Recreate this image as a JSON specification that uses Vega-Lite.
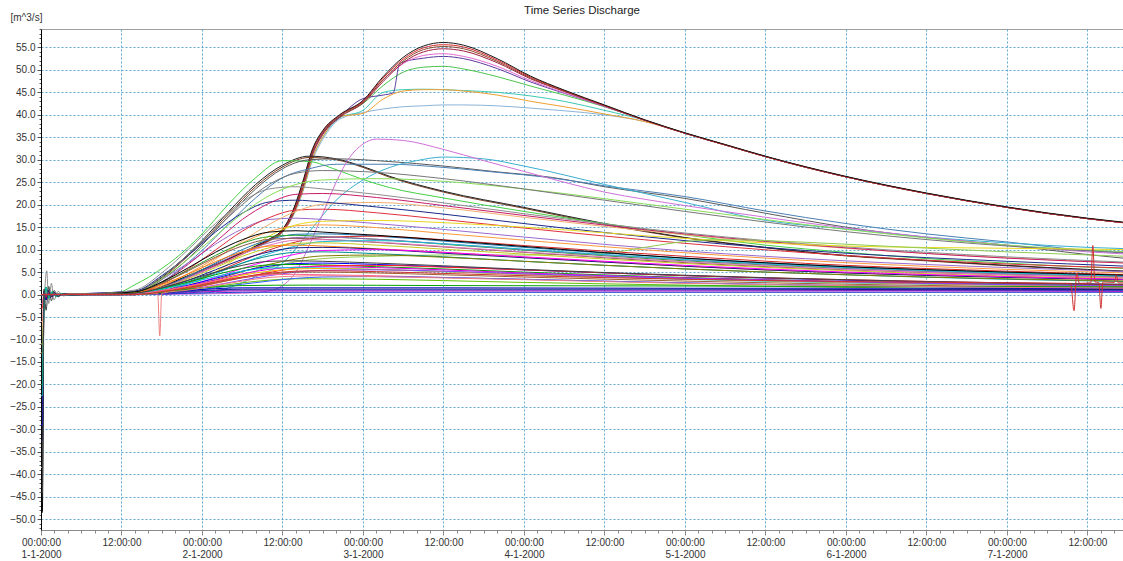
{
"$schema": "https://vega.github.io/schema/vega-lite/v6.json",
"width": 1082,
"height": 501,
"autosize": {"type": "none"},
"padding": {"left": 41, "top": 29, "right": 0, "bottom": 31},
"background": "white",
"title": {"text": "Time Series Discharge", "anchor": "middle", "frame": "group", "offset": 8, "dy": 12, "font": "Liberation Sans", "fontSize": 11.5, "fontWeight": "normal", "color": "#222222"},
"config": {"view": {"stroke": "#a0a0a0", "strokeWidth": 1}},
"data": {"values": [
{"s":"s01","h":0,"q":0},{"s":"s01","h":12,"q":0},{"s":"s01","h":14,"q":0.2},{"s":"s01","h":16,"q":0.7},{"s":"s01","h":18,"q":1.6},{"s":"s01","h":20,"q":2.8},{"s":"s01","h":24,"q":5.2},{"s":"s01","h":28,"q":7.6},{"s":"s01","h":32,"q":10.4},{"s":"s01","h":34,"q":11.9},{"s":"s01","h":36,"q":13.8},{"s":"s01","h":37.5,"q":17.2},{"s":"s01","h":39,"q":22.7},{"s":"s01","h":40.5,"q":30.0},{"s":"s01","h":42,"q":34.5},{"s":"s01","h":44.5,"q":39.0},{"s":"s01","h":48,"q":40.5},{"s":"s01","h":51,"q":41.3},{"s":"s01","h":54,"q":41.8},{"s":"s01","h":57,"q":42.0},{"s":"s01","h":60,"q":42.2},{"s":"s01","h":63,"q":42.2},{"s":"s01","h":68,"q":42.0},{"s":"s01","h":73,"q":41.5},{"s":"s01","h":78,"q":40.9},{"s":"s01","h":84,"q":40.0},{"s":"s01","h":90,"q":38.5},{"s":"s01","h":96,"q":35.9},{"s":"s01","h":102,"q":33.3},{"s":"s01","h":108,"q":30.7},{"s":"s01","h":120,"q":26.2},{"s":"s01","h":132,"q":22.5},{"s":"s01","h":144,"q":19.4},{"s":"s01","h":156,"q":16.9},{"s":"s01","h":162,"q":15.9},
{"s":"s02","h":0,"q":0},{"s":"s02","h":12,"q":0},{"s":"s02","h":14,"q":0.2},{"s":"s02","h":16,"q":0.7},{"s":"s02","h":18,"q":1.6},{"s":"s02","h":20,"q":2.8},{"s":"s02","h":24,"q":5.2},{"s":"s02","h":28,"q":7.6},{"s":"s02","h":32,"q":10.4},{"s":"s02","h":34,"q":11.9},{"s":"s02","h":36,"q":13.9},{"s":"s02","h":37.5,"q":17.4},{"s":"s02","h":39,"q":23.0},{"s":"s02","h":40.5,"q":30.5},{"s":"s02","h":42,"q":35.0},{"s":"s02","h":44.5,"q":39.3},{"s":"s02","h":48,"q":41.0},{"s":"s02","h":51,"q":45.0},{"s":"s02","h":54,"q":45.6},{"s":"s02","h":57,"q":45.7},{"s":"s02","h":60,"q":45.6},{"s":"s02","h":63,"q":45.4},{"s":"s02","h":68,"q":45.0},{"s":"s02","h":73,"q":44.2},{"s":"s02","h":78,"q":43.0},{"s":"s02","h":84,"q":41.0},{"s":"s02","h":90,"q":38.8},{"s":"s02","h":96,"q":35.9},{"s":"s02","h":102,"q":33.3},{"s":"s02","h":108,"q":30.7},{"s":"s02","h":120,"q":26.2},{"s":"s02","h":132,"q":22.5},{"s":"s02","h":144,"q":19.4},{"s":"s02","h":156,"q":16.9},{"s":"s02","h":162,"q":15.9},
{"s":"s03","h":0,"q":0},{"s":"s03","h":12,"q":0},{"s":"s03","h":14,"q":0.2},{"s":"s03","h":16,"q":0.7},{"s":"s03","h":18,"q":1.6},{"s":"s03","h":20,"q":2.8},{"s":"s03","h":24,"q":5.2},{"s":"s03","h":28,"q":7.6},{"s":"s03","h":32,"q":10.4},{"s":"s03","h":34,"q":11.9},{"s":"s03","h":36,"q":13.9},{"s":"s03","h":37.5,"q":17.4},{"s":"s03","h":39,"q":23.0},{"s":"s03","h":40.5,"q":30.5},{"s":"s03","h":42,"q":35.0},{"s":"s03","h":44.5,"q":39.6},{"s":"s03","h":48,"q":40.3},{"s":"s03","h":51,"q":43.5},{"s":"s03","h":54,"q":45.3},{"s":"s03","h":57,"q":45.6},{"s":"s03","h":60,"q":45.6},{"s":"s03","h":63,"q":45.3},{"s":"s03","h":68,"q":44.4},{"s":"s03","h":73,"q":43.0},{"s":"s03","h":78,"q":41.8},{"s":"s03","h":84,"q":40.2},{"s":"s03","h":90,"q":38.5},{"s":"s03","h":96,"q":35.9},{"s":"s03","h":102,"q":33.3},{"s":"s03","h":108,"q":30.7},{"s":"s03","h":120,"q":26.2},{"s":"s03","h":132,"q":22.5},{"s":"s03","h":144,"q":19.4},{"s":"s03","h":156,"q":16.9},{"s":"s03","h":162,"q":15.9},
{"s":"s04","h":0,"q":0},{"s":"s04","h":12,"q":0},{"s":"s04","h":14,"q":0.2},{"s":"s04","h":16,"q":0.8},{"s":"s04","h":18,"q":1.8},{"s":"s04","h":20,"q":3.0},{"s":"s04","h":24,"q":5.5},{"s":"s04","h":28,"q":8.0},{"s":"s04","h":32,"q":10.8},{"s":"s04","h":34,"q":12.3},{"s":"s04","h":36,"q":14.4},{"s":"s04","h":37.5,"q":18.3},{"s":"s04","h":39,"q":24.8},{"s":"s04","h":40.5,"q":32.2},{"s":"s04","h":42,"q":36.2},{"s":"s04","h":44.5,"q":39.6},{"s":"s04","h":48,"q":42.5},{"s":"s04","h":51,"q":46.5},{"s":"s04","h":54,"q":49.5},{"s":"s04","h":57,"q":50.6},{"s":"s04","h":60,"q":50.8},{"s":"s04","h":63,"q":50.2},{"s":"s04","h":68,"q":48.5},{"s":"s04","h":73,"q":46.4},{"s":"s04","h":78,"q":44.4},{"s":"s04","h":84,"q":41.8},{"s":"s04","h":90,"q":38.8},{"s":"s04","h":96,"q":35.9},{"s":"s04","h":102,"q":33.3},{"s":"s04","h":108,"q":30.7},{"s":"s04","h":120,"q":26.2},{"s":"s04","h":132,"q":22.5},{"s":"s04","h":144,"q":19.4},{"s":"s04","h":156,"q":16.9},{"s":"s04","h":162,"q":15.9},
{"s":"s05","h":0,"q":0},{"s":"s05","h":12,"q":0},{"s":"s05","h":14,"q":0.2},{"s":"s05","h":16,"q":0.7},{"s":"s05","h":18,"q":1.7},{"s":"s05","h":20,"q":2.9},{"s":"s05","h":24,"q":5.3},{"s":"s05","h":28,"q":7.8},{"s":"s05","h":32,"q":10.6},{"s":"s05","h":34,"q":12.1},{"s":"s05","h":36,"q":14.1},{"s":"s05","h":37.5,"q":17.8},{"s":"s05","h":39,"q":23.8},{"s":"s05","h":40.5,"q":31.5},{"s":"s05","h":42,"q":35.8},{"s":"s05","h":44.5,"q":39.5},{"s":"s05","h":48,"q":43.6},{"s":"s05","h":51,"q":44.4},{"s":"s05","h":52.5,"q":44.9},{"s":"s05","h":53.5,"q":51.5},{"s":"s05","h":57,"q":52.6},{"s":"s05","h":60,"q":53.0},{"s":"s05","h":63,"q":52.5},{"s":"s05","h":68,"q":50.3},{"s":"s05","h":73,"q":47.3},{"s":"s05","h":78,"q":44.8},{"s":"s05","h":84,"q":41.9},{"s":"s05","h":90,"q":38.8},{"s":"s05","h":96,"q":35.9},{"s":"s05","h":102,"q":33.3},{"s":"s05","h":108,"q":30.7},{"s":"s05","h":120,"q":26.2},{"s":"s05","h":132,"q":22.5},{"s":"s05","h":144,"q":19.4},{"s":"s05","h":156,"q":16.9},{"s":"s05","h":162,"q":15.9},
{"s":"s06","h":0,"q":0},{"s":"s06","h":12,"q":0},{"s":"s06","h":14,"q":0.2},{"s":"s06","h":16,"q":0.8},{"s":"s06","h":18,"q":1.7},{"s":"s06","h":20,"q":2.9},{"s":"s06","h":24,"q":5.4},{"s":"s06","h":28,"q":7.9},{"s":"s06","h":32,"q":10.7},{"s":"s06","h":34,"q":12.2},{"s":"s06","h":36,"q":14.3},{"s":"s06","h":37.5,"q":18.2},{"s":"s06","h":39,"q":24.6},{"s":"s06","h":40.5,"q":32.0},{"s":"s06","h":42,"q":36.2},{"s":"s06","h":44.5,"q":39.8},{"s":"s06","h":48,"q":43.0},{"s":"s06","h":51,"q":47.8},{"s":"s06","h":54,"q":51.4},{"s":"s06","h":57,"q":53.2},{"s":"s06","h":60,"q":53.6},{"s":"s06","h":63,"q":53.0},{"s":"s06","h":68,"q":50.8},{"s":"s06","h":73,"q":47.6},{"s":"s06","h":78,"q":44.9},{"s":"s06","h":84,"q":41.9},{"s":"s06","h":90,"q":38.8},{"s":"s06","h":96,"q":35.9},{"s":"s06","h":102,"q":33.3},{"s":"s06","h":108,"q":30.7},{"s":"s06","h":120,"q":26.2},{"s":"s06","h":132,"q":22.5},{"s":"s06","h":144,"q":19.4},{"s":"s06","h":156,"q":16.9},{"s":"s06","h":162,"q":15.9},
{"s":"s07","h":0,"q":0},{"s":"s07","h":12,"q":0},{"s":"s07","h":14,"q":0.2},{"s":"s07","h":16,"q":0.7},{"s":"s07","h":18,"q":1.6},{"s":"s07","h":20,"q":2.8},{"s":"s07","h":24,"q":5.2},{"s":"s07","h":28,"q":7.7},{"s":"s07","h":32,"q":10.5},{"s":"s07","h":34,"q":12.0},{"s":"s07","h":36,"q":14.0},{"s":"s07","h":37.5,"q":17.6},{"s":"s07","h":39,"q":23.6},{"s":"s07","h":40.5,"q":31.2},{"s":"s07","h":42,"q":35.6},{"s":"s07","h":44.5,"q":39.4},{"s":"s07","h":48,"q":42.6},{"s":"s07","h":51,"q":47.4},{"s":"s07","h":54,"q":51.6},{"s":"s07","h":57,"q":54.0},{"s":"s07","h":60,"q":54.7},{"s":"s07","h":63,"q":54.2},{"s":"s07","h":68,"q":51.6},{"s":"s07","h":73,"q":48.0},{"s":"s07","h":78,"q":45.2},{"s":"s07","h":84,"q":42.0},{"s":"s07","h":90,"q":38.8},{"s":"s07","h":96,"q":35.9},{"s":"s07","h":102,"q":33.3},{"s":"s07","h":108,"q":30.7},{"s":"s07","h":120,"q":26.2},{"s":"s07","h":132,"q":22.5},{"s":"s07","h":144,"q":19.4},{"s":"s07","h":156,"q":16.9},{"s":"s07","h":162,"q":15.9},
{"s":"s08","h":0,"q":0},{"s":"s08","h":12,"q":0},{"s":"s08","h":14,"q":0.2},{"s":"s08","h":16,"q":0.7},{"s":"s08","h":18,"q":1.7},{"s":"s08","h":20,"q":2.9},{"s":"s08","h":24,"q":5.3},{"s":"s08","h":28,"q":7.8},{"s":"s08","h":32,"q":10.6},{"s":"s08","h":34,"q":12.1},{"s":"s08","h":36,"q":14.2},{"s":"s08","h":37.5,"q":18.0},{"s":"s08","h":39,"q":24.2},{"s":"s08","h":40.5,"q":31.8},{"s":"s08","h":42,"q":36.0},{"s":"s08","h":44.5,"q":39.7},{"s":"s08","h":48,"q":42.8},{"s":"s08","h":51,"q":47.8},{"s":"s08","h":54,"q":52.0},{"s":"s08","h":57,"q":54.5},{"s":"s08","h":60,"q":55.2},{"s":"s08","h":63,"q":54.7},{"s":"s08","h":68,"q":51.9},{"s":"s08","h":73,"q":48.2},{"s":"s08","h":78,"q":45.3},{"s":"s08","h":84,"q":42.1},{"s":"s08","h":90,"q":38.8},{"s":"s08","h":96,"q":35.9},{"s":"s08","h":102,"q":33.3},{"s":"s08","h":108,"q":30.7},{"s":"s08","h":120,"q":26.2},{"s":"s08","h":132,"q":22.5},{"s":"s08","h":144,"q":19.4},{"s":"s08","h":156,"q":16.9},{"s":"s08","h":162,"q":15.9},
{"s":"s09","h":0,"q":0},{"s":"s09","h":12,"q":0},{"s":"s09","h":14,"q":0.2},{"s":"s09","h":16,"q":0.8},{"s":"s09","h":18,"q":1.7},{"s":"s09","h":20,"q":2.9},{"s":"s09","h":24,"q":5.4},{"s":"s09","h":28,"q":7.9},{"s":"s09","h":32,"q":10.7},{"s":"s09","h":34,"q":12.2},{"s":"s09","h":36,"q":14.3},{"s":"s09","h":37.5,"q":18.2},{"s":"s09","h":39,"q":24.6},{"s":"s09","h":40.5,"q":32.2},{"s":"s09","h":42,"q":36.3},{"s":"s09","h":44.5,"q":39.9},{"s":"s09","h":48,"q":43.0},{"s":"s09","h":51,"q":48.2},{"s":"s09","h":54,"q":52.4},{"s":"s09","h":57,"q":54.9},{"s":"s09","h":60,"q":55.6},{"s":"s09","h":63,"q":55.1},{"s":"s09","h":68,"q":52.2},{"s":"s09","h":73,"q":48.4},{"s":"s09","h":78,"q":45.4},{"s":"s09","h":84,"q":42.1},{"s":"s09","h":90,"q":38.8},{"s":"s09","h":96,"q":35.9},{"s":"s09","h":102,"q":33.3},{"s":"s09","h":108,"q":30.7},{"s":"s09","h":120,"q":26.2},{"s":"s09","h":132,"q":22.5},{"s":"s09","h":144,"q":19.4},{"s":"s09","h":156,"q":16.9},{"s":"s09","h":162,"q":15.9},
{"s":"s10","h":0,"q":0},{"s":"s10","h":12,"q":0},{"s":"s10","h":14,"q":0.2},{"s":"s10","h":16,"q":0.8},{"s":"s10","h":18,"q":1.8},{"s":"s10","h":20,"q":3.0},{"s":"s10","h":24,"q":5.5},{"s":"s10","h":28,"q":8.0},{"s":"s10","h":32,"q":10.8},{"s":"s10","h":34,"q":12.3},{"s":"s10","h":36,"q":14.5},{"s":"s10","h":37.5,"q":18.5},{"s":"s10","h":39,"q":25},{"s":"s10","h":40.5,"q":32.5},{"s":"s10","h":42,"q":36.5},{"s":"s10","h":44.5,"q":40},{"s":"s10","h":48,"q":43.2},{"s":"s10","h":51,"q":48.5},{"s":"s10","h":54,"q":52.8},{"s":"s10","h":57,"q":55.3},{"s":"s10","h":60,"q":56.1},{"s":"s10","h":63,"q":55.5},{"s":"s10","h":68,"q":52.5},{"s":"s10","h":73,"q":48.6},{"s":"s10","h":78,"q":45.5},{"s":"s10","h":84,"q":42.2},{"s":"s10","h":90,"q":38.9},{"s":"s10","h":96,"q":36.0},{"s":"s10","h":102,"q":33.4},{"s":"s10","h":108,"q":30.8},{"s":"s10","h":120,"q":26.3},{"s":"s10","h":132,"q":22.6},{"s":"s10","h":144,"q":19.5},{"s":"s10","h":156,"q":17.0},{"s":"s10","h":162,"q":16.0},
{"s":"s12","h":0,"q":0},{"s":"s12","h":12,"q":0},{"s":"s12","h":14,"q":0.4},{"s":"s12","h":16,"q":1.6},{"s":"s12","h":18,"q":3.5},{"s":"s12","h":20,"q":6.0},{"s":"s12","h":24,"q":11.6},{"s":"s12","h":28,"q":18.0},{"s":"s12","h":32,"q":24.0},{"s":"s12","h":36,"q":28.4},{"s":"s12","h":40,"q":30.5},{"s":"s12","h":44,"q":30.0},{"s":"s12","h":48,"q":28.3},{"s":"s12","h":52,"q":26.1},{"s":"s12","h":60,"q":22.8},{"s":"s12","h":72,"q":19.2},{"s":"s12","h":84,"q":15.6},{"s":"s12","h":96,"q":12.6},{"s":"s12","h":108,"q":10.4},{"s":"s12","h":120,"q":8.6},{"s":"s12","h":132,"q":7.5},{"s":"s12","h":144,"q":6.4},{"s":"s12","h":156,"q":5.5},{"s":"s12","h":162,"q":5.1},
{"s":"s11","h":0,"q":0},{"s":"s11","h":12,"q":0},{"s":"s11","h":14,"q":0.5},{"s":"s11","h":16,"q":1.8},{"s":"s11","h":18,"q":3.8},{"s":"s11","h":20,"q":6.3},{"s":"s11","h":24,"q":12.0},{"s":"s11","h":28,"q":18.5},{"s":"s11","h":32,"q":24.5},{"s":"s11","h":36,"q":28.8},{"s":"s11","h":40,"q":30.8},{"s":"s11","h":44,"q":30.2},{"s":"s11","h":48,"q":28.5},{"s":"s11","h":52,"q":26.3},{"s":"s11","h":60,"q":23.0},{"s":"s11","h":72,"q":19.4},{"s":"s11","h":84,"q":15.8},{"s":"s11","h":96,"q":12.7},{"s":"s11","h":108,"q":10.5},{"s":"s11","h":120,"q":8.7},{"s":"s11","h":132,"q":7.6},{"s":"s11","h":144,"q":6.5},{"s":"s11","h":156,"q":5.6},{"s":"s11","h":162,"q":5.2},
{"s":"s13","h":0,"q":0},{"s":"s13","h":10,"q":0},{"s":"s13","h":12,"q":0.6},{"s":"s13","h":14,"q":2.2},{"s":"s13","h":16,"q":3.8},{"s":"s13","h":18,"q":5.8},{"s":"s13","h":20,"q":8.0},{"s":"s13","h":24,"q":13.5},{"s":"s13","h":28,"q":20.2},{"s":"s13","h":32,"q":26.0},{"s":"s13","h":36,"q":29.8},{"s":"s13","h":40,"q":29.6},{"s":"s13","h":44,"q":27.8},{"s":"s13","h":48,"q":25.6},{"s":"s13","h":52,"q":23.8},{"s":"s13","h":60,"q":21.5},{"s":"s13","h":72,"q":18.5},{"s":"s13","h":84,"q":15.8},{"s":"s13","h":96,"q":13.3},{"s":"s13","h":108,"q":11.0},{"s":"s13","h":120,"q":9.4},{"s":"s13","h":132,"q":8.0},{"s":"s13","h":144,"q":7.0},{"s":"s13","h":156,"q":6.1},{"s":"s13","h":162,"q":5.8},
{"s":"s14","h":0,"q":0},{"s":"s14","h":12,"q":0},{"s":"s14","h":14,"q":0.4},{"s":"s14","h":16,"q":1.5},{"s":"s14","h":18,"q":3.3},{"s":"s14","h":20,"q":5.5},{"s":"s14","h":24,"q":11.0},{"s":"s14","h":28,"q":17.5},{"s":"s14","h":32,"q":23.5},{"s":"s14","h":36,"q":28.0},{"s":"s14","h":40,"q":30.0},{"s":"s14","h":44,"q":30.2},{"s":"s14","h":52,"q":29.6},{"s":"s14","h":60,"q":28.6},{"s":"s14","h":68,"q":27.3},{"s":"s14","h":76,"q":26.1},{"s":"s14","h":84,"q":24.0},{"s":"s14","h":96,"q":21.4},{"s":"s14","h":108,"q":18.1},{"s":"s14","h":120,"q":15.0},{"s":"s14","h":132,"q":12.7},{"s":"s14","h":144,"q":11.0},{"s":"s14","h":156,"q":8.9},{"s":"s14","h":162,"q":8.0},
{"s":"s15","h":0,"q":0},{"s":"s15","h":12,"q":0},{"s":"s15","h":14,"q":0.3},{"s":"s15","h":16,"q":1.2},{"s":"s15","h":18,"q":2.8},{"s":"s15","h":20,"q":4.8},{"s":"s15","h":24,"q":9.8},{"s":"s15","h":28,"q":15.8},{"s":"s15","h":32,"q":21.5},{"s":"s15","h":36,"q":26.0},{"s":"s15","h":40,"q":28.0},{"s":"s15","h":44,"q":29.0},{"s":"s15","h":52,"q":29.0},{"s":"s15","h":60,"q":28.3},{"s":"s15","h":68,"q":27.2},{"s":"s15","h":76,"q":26.0},{"s":"s15","h":84,"q":24.2},{"s":"s15","h":96,"q":21.8},{"s":"s15","h":108,"q":18.6},{"s":"s15","h":120,"q":15.8},{"s":"s15","h":132,"q":13.5},{"s":"s15","h":144,"q":11.7},{"s":"s15","h":156,"q":9.8},{"s":"s15","h":162,"q":9.2},
{"s":"s16","h":0,"q":0},{"s":"s16","h":24,"q":0.3},{"s":"s16","h":28,"q":1.5},{"s":"s16","h":32,"q":4.0},{"s":"s16","h":36,"q":7.0},{"s":"s16","h":40,"q":14.0},{"s":"s16","h":44,"q":21.0},{"s":"s16","h":48,"q":25.5},{"s":"s16","h":52,"q":28.3},{"s":"s16","h":56,"q":29.8},{"s":"s16","h":60,"q":30.6},{"s":"s16","h":66,"q":30.2},{"s":"s16","h":72,"q":28.6},{"s":"s16","h":84,"q":24.5},{"s":"s16","h":96,"q":20.5},{"s":"s16","h":108,"q":16.5},{"s":"s16","h":120,"q":14.6},{"s":"s16","h":132,"q":12.8},{"s":"s16","h":144,"q":11.5},{"s":"s16","h":156,"q":10.5},{"s":"s16","h":162,"q":10.2},
{"s":"s17","h":0,"q":0},{"s":"s17","h":14,"q":0},{"s":"s17","h":30,"q":0.3},{"s":"s17","h":34,"q":0.8},{"s":"s17","h":36,"q":2.0},{"s":"s17","h":38,"q":5.0},{"s":"s17","h":40,"q":11.0},{"s":"s17","h":42,"q":18.0},{"s":"s17","h":44,"q":25.0},{"s":"s17","h":46,"q":30.5},{"s":"s17","h":48,"q":33.5},{"s":"s17","h":50,"q":34.6},{"s":"s17","h":54,"q":34.3},{"s":"s17","h":60,"q":32.3},{"s":"s17","h":66,"q":29.8},{"s":"s17","h":72,"q":27.4},{"s":"s17","h":78,"q":25.0},{"s":"s17","h":84,"q":22.8},{"s":"s17","h":90,"q":21.2},{"s":"s17","h":96,"q":19.8},{"s":"s17","h":108,"q":17.2},{"s":"s17","h":120,"q":14.8},{"s":"s17","h":132,"q":12.8},{"s":"s17","h":144,"q":11.0},{"s":"s17","h":156,"q":9.5},{"s":"s17","h":162,"q":9.0},
{"s":"s18","h":0,"q":0},{"s":"s18","h":14,"q":0.2},{"s":"s18","h":18,"q":1.9},{"s":"s18","h":22,"q":4.7},{"s":"s18","h":26,"q":8.1},{"s":"s18","h":30,"q":11.5},{"s":"s18","h":34,"q":14.0},{"s":"s18","h":38,"q":15.3},{"s":"s18","h":42,"q":15.5},{"s":"s18","h":50,"q":14.9},{"s":"s18","h":60,"q":13.6},{"s":"s18","h":72,"q":12.1},{"s":"s18","h":96,"q":9.3},{"s":"s18","h":120,"q":7.1},{"s":"s18","h":144,"q":5.6},{"s":"s18","h":162,"q":4.8},
{"s":"s19","h":0,"q":0},{"s":"s19","h":14,"q":0.7},{"s":"s19","h":18,"q":3.4},{"s":"s19","h":22,"q":7.1},{"s":"s19","h":26,"q":11.2},{"s":"s19","h":30,"q":14.6},{"s":"s19","h":34,"q":16.7},{"s":"s19","h":38,"q":17.0},{"s":"s19","h":42,"q":16.7},{"s":"s19","h":50,"q":15.8},{"s":"s19","h":60,"q":14.5},{"s":"s19","h":72,"q":12.8},{"s":"s19","h":96,"q":9.7},{"s":"s19","h":120,"q":7.5},{"s":"s19","h":144,"q":6.0},{"s":"s19","h":162,"q":5.1},
{"s":"s20","h":0,"q":0},{"s":"s20","h":14,"q":0.2},{"s":"s20","h":18,"q":2.3},{"s":"s20","h":22,"q":5.7},{"s":"s20","h":26,"q":9.9},{"s":"s20","h":30,"q":14.1},{"s":"s20","h":34,"q":17.1},{"s":"s20","h":38,"q":18.8},{"s":"s20","h":42,"q":19.0},{"s":"s20","h":50,"q":18.2},{"s":"s20","h":60,"q":16.7},{"s":"s20","h":72,"q":14.8},{"s":"s20","h":96,"q":11.4},{"s":"s20","h":120,"q":8.7},{"s":"s20","h":144,"q":6.8},{"s":"s20","h":162,"q":5.9},
{"s":"s21","h":0,"q":0},{"s":"s21","h":14,"q":0},{"s":"s21","h":18,"q":1.2},{"s":"s21","h":22,"q":4.1},{"s":"s21","h":26,"q":7.8},{"s":"s21","h":30,"q":11.9},{"s":"s21","h":34,"q":15.6},{"s":"s21","h":38,"q":18.5},{"s":"s21","h":42,"q":20.1},{"s":"s21","h":50,"q":20.5},{"s":"s21","h":60,"q":19.3},{"s":"s21","h":72,"q":17.2},{"s":"s21","h":96,"q":13.3},{"s":"s21","h":120,"q":10.3},{"s":"s21","h":144,"q":8.2},{"s":"s21","h":162,"q":7.0},
{"s":"s22","h":0,"q":0},{"s":"s22","h":14,"q":0.8},{"s":"s22","h":18,"q":4.2},{"s":"s22","h":22,"q":8.8},{"s":"s22","h":26,"q":13.9},{"s":"s22","h":30,"q":18.1},{"s":"s22","h":34,"q":20.6},{"s":"s22","h":38,"q":21.0},{"s":"s22","h":42,"q":20.6},{"s":"s22","h":50,"q":19.5},{"s":"s22","h":60,"q":17.9},{"s":"s22","h":72,"q":15.8},{"s":"s22","h":96,"q":12.0},{"s":"s22","h":120,"q":9.2},{"s":"s22","h":144,"q":7.4},{"s":"s22","h":162,"q":6.3},
{"s":"s23","h":0,"q":0},{"s":"s23","h":14,"q":0.2},{"s":"s23","h":18,"q":2.7},{"s":"s23","h":22,"q":6.8},{"s":"s23","h":26,"q":11.7},{"s":"s23","h":30,"q":16.7},{"s":"s23","h":34,"q":20.3},{"s":"s23","h":38,"q":22.3},{"s":"s23","h":42,"q":22.5},{"s":"s23","h":50,"q":21.6},{"s":"s23","h":60,"q":19.8},{"s":"s23","h":72,"q":17.6},{"s":"s23","h":96,"q":13.5},{"s":"s23","h":120,"q":10.4},{"s":"s23","h":144,"q":8.1},{"s":"s23","h":162,"q":7.0},
{"s":"s24","h":0,"q":-38.5},{"s":"s24","h":0.2,"q":-38.5},{"s":"s24","h":0.45,"q":-3.8},{"s":"s24","h":0.85,"q":5.3},{"s":"s24","h":1.15,"q":-2.0},{"s":"s24","h":1.55,"q":2.5},{"s":"s24","h":1.95,"q":-1.2},{"s":"s24","h":2.55,"q":0.7},{"s":"s24","h":3.35,"q":-0.3},{"s":"s24","h":4.35,"q":0.1},{"s":"s24","h":6,"q":0},{"s":"s24","h":14,"q":1.0},{"s":"s24","h":18,"q":4.8},{"s":"s24","h":22,"q":10.1},{"s":"s24","h":26,"q":15.8},{"s":"s24","h":30,"q":20.6},{"s":"s24","h":34,"q":23.5},{"s":"s24","h":38,"q":24.0},{"s":"s24","h":42,"q":23.5},{"s":"s24","h":50,"q":22.3},{"s":"s24","h":60,"q":20.4},{"s":"s24","h":72,"q":18.0},{"s":"s24","h":96,"q":13.7},{"s":"s24","h":120,"q":10.6},{"s":"s24","h":144,"q":8.4},{"s":"s24","h":162,"q":7.2},
{"s":"s25","h":0,"q":0},{"s":"s25","h":14,"q":0.5},{"s":"s25","h":18,"q":3.5},{"s":"s25","h":22,"q":8.0},{"s":"s25","h":26,"q":13.0},{"s":"s25","h":30,"q":18.0},{"s":"s25","h":34,"q":22.0},{"s":"s25","h":38,"q":24.5},{"s":"s25","h":42,"q":25.5},{"s":"s25","h":50,"q":25.8},{"s":"s25","h":60,"q":25.2},{"s":"s25","h":72,"q":23.5},{"s":"s25","h":96,"q":19.0},{"s":"s25","h":120,"q":14.5},{"s":"s25","h":144,"q":11.0},{"s":"s25","h":162,"q":9.5},
{"s":"s26","h":0,"q":0},{"s":"s26","h":14,"q":0.6},{"s":"s26","h":18,"q":4.0},{"s":"s26","h":22,"q":9.0},{"s":"s26","h":26,"q":14.5},{"s":"s26","h":30,"q":20.0},{"s":"s26","h":34,"q":24.5},{"s":"s26","h":38,"q":27.0},{"s":"s26","h":42,"q":27.6},{"s":"s26","h":50,"q":27.2},{"s":"s26","h":60,"q":25.8},{"s":"s26","h":72,"q":23.5},{"s":"s26","h":96,"q":18.5},{"s":"s26","h":120,"q":14.0},{"s":"s26","h":144,"q":10.8},{"s":"s26","h":162,"q":9.3},
{"s":"s27","h":0,"q":0},{"s":"s27","h":14,"q":0},{"s":"s27","h":18,"q":0.5},{"s":"s27","h":22,"q":2.0},{"s":"s27","h":26,"q":5.0},{"s":"s27","h":30,"q":9.0},{"s":"s27","h":34,"q":13.0},{"s":"s27","h":38,"q":15.5},{"s":"s27","h":42,"q":16.3},{"s":"s27","h":50,"q":16.5},{"s":"s27","h":60,"q":16.0},{"s":"s27","h":72,"q":15.0},{"s":"s27","h":96,"q":12.5},{"s":"s27","h":120,"q":10.8},{"s":"s27","h":144,"q":10.3},{"s":"s27","h":162,"q":10.0},
{"s":"s28","h":0,"q":0},{"s":"s28","h":14,"q":0},{"s":"s28","h":18,"q":0.4},{"s":"s28","h":22,"q":1.4},{"s":"s28","h":26,"q":2.8},{"s":"s28","h":30,"q":4.4},{"s":"s28","h":34,"q":6.0},{"s":"s28","h":38,"q":7.3},{"s":"s28","h":42,"q":8.0},{"s":"s28","h":50,"q":8.5},{"s":"s28","h":60,"q":8.8},{"s":"s28","h":72,"q":8.8},{"s":"s28","h":84,"q":9.2},{"s":"s28","h":90,"q":10.5},{"s":"s28","h":96,"q":11.8},{"s":"s28","h":102,"q":12.2},{"s":"s28","h":108,"q":12.0},{"s":"s28","h":120,"q":11.2},{"s":"s28","h":144,"q":9.5},{"s":"s28","h":162,"q":8.5},
{"s":"s29","h":0,"q":0},{"s":"s29","h":14,"q":0.1},{"s":"s29","h":18,"q":1.6},{"s":"s29","h":22,"q":4.1},{"s":"s29","h":26,"q":7.0},{"s":"s29","h":30,"q":10.0},{"s":"s29","h":34,"q":12.2},{"s":"s29","h":38,"q":13.4},{"s":"s29","h":42,"q":13.5},{"s":"s29","h":50,"q":13.0},{"s":"s29","h":60,"q":11.9},{"s":"s29","h":72,"q":10.5},{"s":"s29","h":96,"q":8.1},{"s":"s29","h":120,"q":6.2},{"s":"s29","h":144,"q":4.9},{"s":"s29","h":162,"q":4.2},
{"s":"s30","h":0,"q":0},{"s":"s30","h":14,"q":0.5},{"s":"s30","h":18,"q":2.6},{"s":"s30","h":22,"q":5.5},{"s":"s30","h":26,"q":8.7},{"s":"s30","h":30,"q":11.4},{"s":"s30","h":34,"q":12.9},{"s":"s30","h":38,"q":13.2},{"s":"s30","h":42,"q":12.9},{"s":"s30","h":50,"q":12.3},{"s":"s30","h":60,"q":11.2},{"s":"s30","h":72,"q":9.9},{"s":"s30","h":96,"q":7.5},{"s":"s30","h":120,"q":5.8},{"s":"s30","h":144,"q":4.6},{"s":"s30","h":162,"q":4.0},
{"s":"s31","h":0,"q":0},{"s":"s31","h":14,"q":0},{"s":"s31","h":18,"q":0.8},{"s":"s31","h":22,"q":2.6},{"s":"s31","h":26,"q":4.9},{"s":"s31","h":30,"q":7.5},{"s":"s31","h":34,"q":9.9},{"s":"s31","h":38,"q":11.7},{"s":"s31","h":42,"q":12.7},{"s":"s31","h":50,"q":13.0},{"s":"s31","h":60,"q":12.2},{"s":"s31","h":72,"q":10.9},{"s":"s31","h":96,"q":8.5},{"s":"s31","h":120,"q":6.5},{"s":"s31","h":144,"q":5.2},{"s":"s31","h":162,"q":4.4},
{"s":"s32","h":0,"q":-2.0},{"s":"s32","h":0.2,"q":-2.0},{"s":"s32","h":0.45,"q":0.4},{"s":"s32","h":0.75,"q":-0.6},{"s":"s32","h":1.05,"q":0.4},{"s":"s32","h":1.45,"q":-0.3},{"s":"s32","h":1.95,"q":0.2},{"s":"s32","h":2.55,"q":-0.1},{"s":"s32","h":3.35,"q":0.05},{"s":"s32","h":6,"q":0},{"s":"s32","h":14,"q":0.1},{"s":"s32","h":18,"q":1.5},{"s":"s32","h":22,"q":3.8},{"s":"s32","h":26,"q":6.7},{"s":"s32","h":30,"q":9.5},{"s":"s32","h":34,"q":11.5},{"s":"s32","h":38,"q":12.7},{"s":"s32","h":42,"q":12.8},{"s":"s32","h":50,"q":12.3},{"s":"s32","h":60,"q":11.3},{"s":"s32","h":72,"q":10.0},{"s":"s32","h":96,"q":7.7},{"s":"s32","h":120,"q":5.9},{"s":"s32","h":144,"q":4.6},{"s":"s32","h":162,"q":4.0},
{"s":"s33","h":0,"q":0},{"s":"s33","h":14,"q":0.5},{"s":"s33","h":18,"q":2.5},{"s":"s33","h":22,"q":5.3},{"s":"s33","h":26,"q":8.3},{"s":"s33","h":30,"q":10.8},{"s":"s33","h":34,"q":12.3},{"s":"s33","h":38,"q":12.5},{"s":"s33","h":42,"q":12.3},{"s":"s33","h":50,"q":11.6},{"s":"s33","h":60,"q":10.6},{"s":"s33","h":72,"q":9.4},{"s":"s33","h":96,"q":7.1},{"s":"s33","h":120,"q":5.5},{"s":"s33","h":144,"q":4.4},{"s":"s33","h":162,"q":3.8},
{"s":"s34","h":0,"q":-6.0},{"s":"s34","h":0.2,"q":-6.0},{"s":"s34","h":0.45,"q":0.8},{"s":"s34","h":0.75,"q":-1.2},{"s":"s34","h":1.05,"q":0.9},{"s":"s34","h":1.45,"q":-0.6},{"s":"s34","h":1.95,"q":0.4},{"s":"s34","h":2.55,"q":-0.3},{"s":"s34","h":3.35,"q":0.15},{"s":"s34","h":4.35,"q":-0.05},{"s":"s34","h":6,"q":0},{"s":"s34","h":14,"q":0.1},{"s":"s34","h":18,"q":1.5},{"s":"s34","h":22,"q":3.7},{"s":"s34","h":26,"q":6.3},{"s":"s34","h":30,"q":9.0},{"s":"s34","h":34,"q":11.0},{"s":"s34","h":38,"q":12.1},{"s":"s34","h":42,"q":12.2},{"s":"s34","h":50,"q":11.7},{"s":"s34","h":60,"q":10.7},{"s":"s34","h":72,"q":9.5},{"s":"s34","h":96,"q":7.3},{"s":"s34","h":120,"q":5.6},{"s":"s34","h":144,"q":4.4},{"s":"s34","h":162,"q":3.8},
{"s":"s35","h":0,"q":0},{"s":"s35","h":14,"q":0},{"s":"s35","h":18,"q":0.7},{"s":"s35","h":22,"q":2.4},{"s":"s35","h":26,"q":4.6},{"s":"s35","h":30,"q":7.0},{"s":"s35","h":34,"q":9.1},{"s":"s35","h":38,"q":10.8},{"s":"s35","h":42,"q":11.8},{"s":"s35","h":50,"q":12.0},{"s":"s35","h":60,"q":11.3},{"s":"s35","h":72,"q":10.1},{"s":"s35","h":96,"q":7.8},{"s":"s35","h":120,"q":6.0},{"s":"s35","h":144,"q":4.8},{"s":"s35","h":162,"q":4.1},
{"s":"s36","h":0,"q":-11.0},{"s":"s36","h":0.2,"q":-11.0},{"s":"s36","h":0.45,"q":-1.5},{"s":"s36","h":0.75,"q":1.6},{"s":"s36","h":1.15,"q":-0.8},{"s":"s36","h":1.65,"q":0.6},{"s":"s36","h":2.25,"q":-0.4},{"s":"s36","h":3.15,"q":0.2},{"s":"s36","h":4.15,"q":-0.1},{"s":"s36","h":6,"q":0},{"s":"s36","h":14,"q":0.1},{"s":"s36","h":18,"q":1.4},{"s":"s36","h":22,"q":3.5},{"s":"s36","h":26,"q":6.0},{"s":"s36","h":30,"q":8.5},{"s":"s36","h":34,"q":10.4},{"s":"s36","h":38,"q":11.4},{"s":"s36","h":42,"q":11.5},{"s":"s36","h":50,"q":11.0},{"s":"s36","h":60,"q":10.1},{"s":"s36","h":72,"q":9.0},{"s":"s36","h":96,"q":6.9},{"s":"s36","h":120,"q":5.3},{"s":"s36","h":144,"q":4.1},{"s":"s36","h":162,"q":3.6},
{"s":"s37","h":0,"q":-13.0},{"s":"s37","h":0.2,"q":-13.0},{"s":"s37","h":0.45,"q":0.8},{"s":"s37","h":0.75,"q":-1.2},{"s":"s37","h":1.05,"q":0.9},{"s":"s37","h":1.45,"q":-0.6},{"s":"s37","h":1.95,"q":0.4},{"s":"s37","h":2.55,"q":-0.3},{"s":"s37","h":3.35,"q":0.15},{"s":"s37","h":4.35,"q":-0.05},{"s":"s37","h":6,"q":0},{"s":"s37","h":14,"q":0.4},{"s":"s37","h":18,"q":2.2},{"s":"s37","h":22,"q":4.6},{"s":"s37","h":26,"q":7.3},{"s":"s37","h":30,"q":9.5},{"s":"s37","h":34,"q":10.8},{"s":"s37","h":38,"q":11.0},{"s":"s37","h":42,"q":10.8},{"s":"s37","h":50,"q":10.2},{"s":"s37","h":60,"q":9.4},{"s":"s37","h":72,"q":8.3},{"s":"s37","h":96,"q":6.3},{"s":"s37","h":120,"q":4.8},{"s":"s37","h":144,"q":3.9},{"s":"s37","h":162,"q":3.3},
{"s":"s38","h":0,"q":-32.5},{"s":"s38","h":0.2,"q":-32.5},{"s":"s38","h":0.45,"q":-1.5},{"s":"s38","h":0.75,"q":1.6},{"s":"s38","h":1.15,"q":-0.8},{"s":"s38","h":1.65,"q":0.6},{"s":"s38","h":2.25,"q":-0.4},{"s":"s38","h":3.15,"q":0.2},{"s":"s38","h":4.15,"q":-0.1},{"s":"s38","h":6,"q":0},{"s":"s38","h":14,"q":0.1},{"s":"s38","h":18,"q":1.3},{"s":"s38","h":22,"q":3.2},{"s":"s38","h":26,"q":5.5},{"s":"s38","h":30,"q":7.8},{"s":"s38","h":34,"q":9.5},{"s":"s38","h":38,"q":10.4},{"s":"s38","h":42,"q":10.5},{"s":"s38","h":50,"q":10.1},{"s":"s38","h":60,"q":9.2},{"s":"s38","h":72,"q":8.2},{"s":"s38","h":96,"q":6.3},{"s":"s38","h":120,"q":4.8},{"s":"s38","h":144,"q":3.8},{"s":"s38","h":162,"q":3.3},
{"s":"s39","h":0,"q":0},{"s":"s39","h":14,"q":0},{"s":"s39","h":18,"q":0.6},{"s":"s39","h":22,"q":2.0},{"s":"s39","h":26,"q":3.8},{"s":"s39","h":30,"q":5.8},{"s":"s39","h":34,"q":7.6},{"s":"s39","h":38,"q":9.0},{"s":"s39","h":42,"q":9.8},{"s":"s39","h":50,"q":10.0},{"s":"s39","h":60,"q":9.4},{"s":"s39","h":72,"q":8.4},{"s":"s39","h":96,"q":6.5},{"s":"s39","h":120,"q":5.0},{"s":"s39","h":144,"q":4.0},{"s":"s39","h":162,"q":3.4},
{"s":"s40","h":0,"q":0},{"s":"s40","h":14,"q":0.1},{"s":"s40","h":18,"q":1.1},{"s":"s40","h":22,"q":2.9},{"s":"s40","h":26,"q":4.9},{"s":"s40","h":30,"q":7.0},{"s":"s40","h":34,"q":8.6},{"s":"s40","h":38,"q":9.4},{"s":"s40","h":42,"q":9.5},{"s":"s40","h":50,"q":9.1},{"s":"s40","h":60,"q":8.4},{"s":"s40","h":72,"q":7.4},{"s":"s40","h":96,"q":5.7},{"s":"s40","h":120,"q":4.4},{"s":"s40","h":144,"q":3.4},{"s":"s40","h":162,"q":2.9},
{"s":"s41","h":0,"q":-48.5},{"s":"s41","h":0.2,"q":-48.5},{"s":"s41","h":0.45,"q":0.8},{"s":"s41","h":0.75,"q":-1.2},{"s":"s41","h":1.05,"q":0.9},{"s":"s41","h":1.45,"q":-0.6},{"s":"s41","h":1.95,"q":0.4},{"s":"s41","h":2.55,"q":-0.3},{"s":"s41","h":3.35,"q":0.15},{"s":"s41","h":4.35,"q":-0.05},{"s":"s41","h":6,"q":0},{"s":"s41","h":14,"q":0.6},{"s":"s41","h":18,"q":2.8},{"s":"s41","h":22,"q":6.0},{"s":"s41","h":26,"q":9.4},{"s":"s41","h":30,"q":12.2},{"s":"s41","h":34,"q":13.9},{"s":"s41","h":38,"q":14.2},{"s":"s41","h":42,"q":13.9},{"s":"s41","h":50,"q":13.2},{"s":"s41","h":60,"q":12.1},{"s":"s41","h":72,"q":10.7},{"s":"s41","h":96,"q":8.1},{"s":"s41","h":120,"q":6.2},{"s":"s41","h":144,"q":5.0},{"s":"s41","h":162,"q":4.3},
{"s":"s42","h":0,"q":0},{"s":"s42","h":14,"q":0},{"s":"s42","h":18,"q":0.5},{"s":"s42","h":22,"q":1.8},{"s":"s42","h":26,"q":3.3},{"s":"s42","h":30,"q":5.1},{"s":"s42","h":34,"q":6.7},{"s":"s42","h":38,"q":7.9},{"s":"s42","h":42,"q":8.6},{"s":"s42","h":50,"q":8.8},{"s":"s42","h":60,"q":8.3},{"s":"s42","h":72,"q":7.4},{"s":"s42","h":96,"q":5.7},{"s":"s42","h":120,"q":4.4},{"s":"s42","h":144,"q":3.5},{"s":"s42","h":162,"q":3.0},
{"s":"s43","h":0,"q":-29.0},{"s":"s43","h":0.2,"q":-29.0},{"s":"s43","h":0.45,"q":0.8},{"s":"s43","h":0.75,"q":-1.2},{"s":"s43","h":1.05,"q":0.9},{"s":"s43","h":1.45,"q":-0.6},{"s":"s43","h":1.95,"q":0.4},{"s":"s43","h":2.55,"q":-0.3},{"s":"s43","h":3.35,"q":0.15},{"s":"s43","h":4.35,"q":-0.05},{"s":"s43","h":6,"q":0},{"s":"s43","h":14,"q":0.1},{"s":"s43","h":18,"q":0.8},{"s":"s43","h":22,"q":2.1},{"s":"s43","h":26,"q":3.6},{"s":"s43","h":30,"q":5.2},{"s":"s43","h":34,"q":6.3},{"s":"s43","h":38,"q":6.9},{"s":"s43","h":42,"q":7.0},{"s":"s43","h":50,"q":6.7},{"s":"s43","h":60,"q":6.2},{"s":"s43","h":72,"q":5.5},{"s":"s43","h":96,"q":4.2},{"s":"s43","h":120,"q":3.2},{"s":"s43","h":144,"q":2.5},{"s":"s43","h":162,"q":2.2},
{"s":"s44","h":0,"q":-20.0},{"s":"s44","h":0.2,"q":-20.0},{"s":"s44","h":0.45,"q":-1.5},{"s":"s44","h":0.75,"q":1.6},{"s":"s44","h":1.15,"q":-0.8},{"s":"s44","h":1.65,"q":0.6},{"s":"s44","h":2.25,"q":-0.4},{"s":"s44","h":3.15,"q":0.2},{"s":"s44","h":4.15,"q":-0.1},{"s":"s44","h":6,"q":0},{"s":"s44","h":14,"q":0.3},{"s":"s44","h":18,"q":1.3},{"s":"s44","h":22,"q":2.8},{"s":"s44","h":26,"q":4.4},{"s":"s44","h":30,"q":5.8},{"s":"s44","h":34,"q":6.6},{"s":"s44","h":38,"q":6.7},{"s":"s44","h":42,"q":6.6},{"s":"s44","h":50,"q":6.2},{"s":"s44","h":60,"q":5.7},{"s":"s44","h":72,"q":5.0},{"s":"s44","h":96,"q":3.8},{"s":"s44","h":120,"q":2.9},{"s":"s44","h":144,"q":2.3},{"s":"s44","h":162,"q":2.0},
{"s":"s45","h":0,"q":-3.0},{"s":"s45","h":0.2,"q":-3.0},{"s":"s45","h":0.45,"q":0.4},{"s":"s45","h":0.75,"q":-0.6},{"s":"s45","h":1.05,"q":0.4},{"s":"s45","h":1.45,"q":-0.3},{"s":"s45","h":1.95,"q":0.2},{"s":"s45","h":2.55,"q":-0.1},{"s":"s45","h":3.35,"q":0.05},{"s":"s45","h":6,"q":0},{"s":"s45","h":14,"q":0},{"s":"s45","h":18,"q":0.4},{"s":"s45","h":22,"q":1.3},{"s":"s45","h":26,"q":2.5},{"s":"s45","h":30,"q":3.8},{"s":"s45","h":34,"q":4.9},{"s":"s45","h":38,"q":5.9},{"s":"s45","h":42,"q":6.4},{"s":"s45","h":50,"q":6.5},{"s":"s45","h":60,"q":6.1},{"s":"s45","h":72,"q":5.5},{"s":"s45","h":96,"q":4.2},{"s":"s45","h":120,"q":3.3},{"s":"s45","h":144,"q":2.6},{"s":"s45","h":162,"q":2.2},
{"s":"s46","h":0,"q":0},{"s":"s46","h":14,"q":0.1},{"s":"s46","h":18,"q":0.7},{"s":"s46","h":22,"q":1.9},{"s":"s46","h":26,"q":3.2},{"s":"s46","h":30,"q":4.6},{"s":"s46","h":34,"q":5.6},{"s":"s46","h":38,"q":6.1},{"s":"s46","h":42,"q":6.2},{"s":"s46","h":50,"q":6.0},{"s":"s46","h":60,"q":5.5},{"s":"s46","h":72,"q":4.8},{"s":"s46","h":96,"q":3.7},{"s":"s46","h":120,"q":2.9},{"s":"s46","h":144,"q":2.2},{"s":"s46","h":162,"q":1.9},
{"s":"s47","h":0,"q":-22.5},{"s":"s47","h":0.2,"q":-22.5},{"s":"s47","h":0.45,"q":-1.5},{"s":"s47","h":0.75,"q":1.6},{"s":"s47","h":1.15,"q":-0.8},{"s":"s47","h":1.65,"q":0.6},{"s":"s47","h":2.25,"q":-0.4},{"s":"s47","h":3.15,"q":0.2},{"s":"s47","h":4.15,"q":-0.1},{"s":"s47","h":6,"q":0},{"s":"s47","h":14,"q":0.2},{"s":"s47","h":18,"q":1.2},{"s":"s47","h":22,"q":2.5},{"s":"s47","h":26,"q":4.0},{"s":"s47","h":30,"q":5.2},{"s":"s47","h":34,"q":5.9},{"s":"s47","h":38,"q":6.0},{"s":"s47","h":42,"q":5.9},{"s":"s47","h":50,"q":5.6},{"s":"s47","h":60,"q":5.1},{"s":"s47","h":72,"q":4.5},{"s":"s47","h":96,"q":3.4},{"s":"s47","h":120,"q":2.6},{"s":"s47","h":144,"q":2.1},{"s":"s47","h":162,"q":1.8},
{"s":"s48","h":0,"q":0},{"s":"s48","h":14,"q":0.1},{"s":"s48","h":18,"q":0.7},{"s":"s48","h":22,"q":1.7},{"s":"s48","h":26,"q":3.0},{"s":"s48","h":30,"q":4.3},{"s":"s48","h":34,"q":5.2},{"s":"s48","h":38,"q":5.7},{"s":"s48","h":42,"q":5.8},{"s":"s48","h":50,"q":5.6},{"s":"s48","h":60,"q":5.1},{"s":"s48","h":72,"q":4.5},{"s":"s48","h":96,"q":3.5},{"s":"s48","h":120,"q":2.7},{"s":"s48","h":144,"q":2.1},{"s":"s48","h":162,"q":1.8},
{"s":"s49","h":0,"q":0},{"s":"s49","h":14,"q":0},{"s":"s49","h":18,"q":0.3},{"s":"s49","h":22,"q":1.1},{"s":"s49","h":26,"q":2.1},{"s":"s49","h":30,"q":3.2},{"s":"s49","h":34,"q":4.2},{"s":"s49","h":38,"q":5.0},{"s":"s49","h":42,"q":5.4},{"s":"s49","h":50,"q":5.5},{"s":"s49","h":60,"q":5.2},{"s":"s49","h":72,"q":4.6},{"s":"s49","h":96,"q":3.6},{"s":"s49","h":120,"q":2.8},{"s":"s49","h":144,"q":2.2},{"s":"s49","h":162,"q":1.9},
{"s":"s50","h":0,"q":0},{"s":"s50","h":14,"q":0.1},{"s":"s50","h":18,"q":0.6},{"s":"s50","h":22,"q":1.5},{"s":"s50","h":26,"q":2.6},{"s":"s50","h":30,"q":3.7},{"s":"s50","h":34,"q":4.5},{"s":"s50","h":38,"q":5.0},{"s":"s50","h":42,"q":5.0},{"s":"s50","h":50,"q":4.8},{"s":"s50","h":60,"q":4.4},{"s":"s50","h":72,"q":3.9},{"s":"s50","h":96,"q":3.0},{"s":"s50","h":120,"q":2.3},{"s":"s50","h":144,"q":1.8},{"s":"s50","h":162,"q":1.6},
{"s":"s51","h":0,"q":0},{"s":"s51","h":14,"q":0.2},{"s":"s51","h":18,"q":0.9},{"s":"s51","h":22,"q":1.9},{"s":"s51","h":26,"q":3.0},{"s":"s51","h":30,"q":3.9},{"s":"s51","h":34,"q":4.4},{"s":"s51","h":38,"q":4.5},{"s":"s51","h":42,"q":4.4},{"s":"s51","h":50,"q":4.2},{"s":"s51","h":60,"q":3.8},{"s":"s51","h":72,"q":3.4},{"s":"s51","h":96,"q":2.6},{"s":"s51","h":120,"q":2.0},{"s":"s51","h":144,"q":1.6},{"s":"s51","h":162,"q":1.4},
{"s":"s52","h":0,"q":-44.0},{"s":"s52","h":0.2,"q":-44.0},{"s":"s52","h":0.45,"q":1.2},{"s":"s52","h":0.75,"q":-3.5},{"s":"s52","h":1.15,"q":1.8},{"s":"s52","h":1.55,"q":-1.4},{"s":"s52","h":1.95,"q":0.9},{"s":"s52","h":2.55,"q":-0.5},{"s":"s52","h":3.35,"q":0.2},{"s":"s52","h":4.35,"q":-0.1},{"s":"s52","h":6,"q":0},{"s":"s52","h":14,"q":0.3},{"s":"s52","h":18,"q":1.5},{"s":"s52","h":22,"q":3.2},{"s":"s52","h":26,"q":5.0},{"s":"s52","h":30,"q":6.5},{"s":"s52","h":34,"q":7.4},{"s":"s52","h":38,"q":7.5},{"s":"s52","h":42,"q":7.4},{"s":"s52","h":50,"q":7.0},{"s":"s52","h":60,"q":6.4},{"s":"s52","h":72,"q":5.6},{"s":"s52","h":96,"q":4.3},{"s":"s52","h":120,"q":3.3},{"s":"s52","h":144,"q":2.6},{"s":"s52","h":162,"q":2.3},
{"s":"s53","h":0,"q":0},{"s":"s53","h":14,"q":0},{"s":"s53","h":18,"q":0.4},{"s":"s53","h":22,"q":1.1},{"s":"s53","h":26,"q":1.8},{"s":"s53","h":30,"q":2.6},{"s":"s53","h":34,"q":3.2},{"s":"s53","h":38,"q":3.5},{"s":"s53","h":42,"q":3.5},{"s":"s53","h":50,"q":3.4},{"s":"s53","h":60,"q":3.1},{"s":"s53","h":72,"q":2.7},{"s":"s53","h":96,"q":2.1},{"s":"s53","h":120,"q":1.6},{"s":"s53","h":144,"q":1.3},{"s":"s53","h":162,"q":1.1},
{"s":"s54","h":0,"q":0},{"s":"s54","h":14,"q":0},{"s":"s54","h":18,"q":0.2},{"s":"s54","h":22,"q":0.8},{"s":"s54","h":26,"q":1.5},{"s":"s54","h":30,"q":2.3},{"s":"s54","h":34,"q":3.0},{"s":"s54","h":38,"q":3.6},{"s":"s54","h":42,"q":3.9},{"s":"s54","h":50,"q":4.0},{"s":"s54","h":60,"q":3.8},{"s":"s54","h":72,"q":3.4},{"s":"s54","h":96,"q":2.6},{"s":"s54","h":120,"q":2.0},{"s":"s54","h":144,"q":1.6},{"s":"s54","h":162,"q":1.4},
{"s":"s55","h":0,"q":0},{"s":"s55","h":14,"q":0},{"s":"s55","h":18,"q":0.3},{"s":"s55","h":22,"q":0.9},{"s":"s55","h":26,"q":1.3},{"s":"s55","h":30,"q":1.5},{"s":"s55","h":40,"q":1.5},{"s":"s55","h":60,"q":1.5},{"s":"s55","h":96,"q":1.4},{"s":"s55","h":130,"q":1.4},{"s":"s55","h":162,"q":1.3},
{"s":"s56","h":0,"q":0},{"s":"s56","h":14,"q":0},{"s":"s56","h":18,"q":0.2},{"s":"s56","h":22,"q":0.7},{"s":"s56","h":26,"q":1.0},{"s":"s56","h":30,"q":1.2},{"s":"s56","h":40,"q":1.2},{"s":"s56","h":60,"q":1.2},{"s":"s56","h":96,"q":1.2},{"s":"s56","h":130,"q":1.1},{"s":"s56","h":162,"q":1.1},
{"s":"s57","h":0,"q":0},{"s":"s57","h":14,"q":0},{"s":"s57","h":18,"q":0.2},{"s":"s57","h":22,"q":0.6},{"s":"s57","h":26,"q":0.9},{"s":"s57","h":30,"q":1.0},{"s":"s57","h":40,"q":1.0},{"s":"s57","h":60,"q":1.0},{"s":"s57","h":96,"q":1.0},{"s":"s57","h":130,"q":0.9},{"s":"s57","h":162,"q":0.9},
{"s":"s58","h":0,"q":0},{"s":"s58","h":14,"q":0},{"s":"s58","h":18,"q":0.1},{"s":"s58","h":22,"q":0.4},{"s":"s58","h":26,"q":0.7},{"s":"s58","h":30,"q":0.8},{"s":"s58","h":40,"q":0.8},{"s":"s58","h":60,"q":0.8},{"s":"s58","h":96,"q":0.8},{"s":"s58","h":130,"q":0.8},{"s":"s58","h":162,"q":0.7},
{"s":"s59","h":0,"q":0},{"s":"s59","h":14,"q":0},{"s":"s59","h":18,"q":0.1},{"s":"s59","h":22,"q":0.3},{"s":"s59","h":26,"q":0.4},{"s":"s59","h":30,"q":0.5},{"s":"s59","h":40,"q":0.5},{"s":"s59","h":60,"q":0.5},{"s":"s59","h":96,"q":0.5},{"s":"s59","h":130,"q":0.5},{"s":"s59","h":162,"q":0.5},
{"s":"s60","h":0,"q":0},{"s":"s60","h":14,"q":0},{"s":"s60","h":18,"q":0.4},{"s":"s60","h":22,"q":1.2},{"s":"s60","h":26,"q":1.7},{"s":"s60","h":30,"q":2.0},{"s":"s60","h":40,"q":2.1},{"s":"s60","h":60,"q":2.0},{"s":"s60","h":96,"q":1.9},{"s":"s60","h":130,"q":1.8},{"s":"s60","h":162,"q":1.7},
{"s":"s61","h":0,"q":0},{"s":"s61","h":14,"q":0},{"s":"s61","h":17.4,"q":0.2},{"s":"s61","h":17.7,"q":-9.2},{"s":"s61","h":18,"q":0.3},{"s":"s61","h":22,"q":1.0},{"s":"s61","h":26,"q":2.0},{"s":"s61","h":30,"q":3.0},{"s":"s61","h":34,"q":3.8},{"s":"s61","h":38,"q":4.1},{"s":"s61","h":42,"q":4.2},{"s":"s61","h":50,"q":4.0},{"s":"s61","h":60,"q":3.7},{"s":"s61","h":72,"q":3.3},{"s":"s61","h":96,"q":2.5},{"s":"s61","h":120,"q":2.0},{"s":"s61","h":144,"q":1.6},{"s":"s61","h":162,"q":1.4},
{"s":"s62","h":0,"q":0},{"s":"s62","h":14,"q":0},{"s":"s62","h":18,"q":0.6},{"s":"s62","h":22,"q":1.6},{"s":"s62","h":26,"q":2.8},{"s":"s62","h":30,"q":3.9},{"s":"s62","h":34,"q":4.7},{"s":"s62","h":38,"q":5.2},{"s":"s62","h":42,"q":5.3},{"s":"s62","h":50,"q":5.1},{"s":"s62","h":60,"q":4.7},{"s":"s62","h":72,"q":4.2},{"s":"s62","h":96,"q":3.4},{"s":"s62","h":120,"q":2.9},{"s":"s62","h":144,"q":2.6},{"s":"s62","h":153.5,"q":2.5},{"s":"s62","h":154,"q":-3.6},{"s":"s62","h":154.4,"q":4.8},{"s":"s62","h":154.8,"q":2.5},{"s":"s62","h":156.5,"q":2.6},{"s":"s62","h":156.8,"q":10.9},{"s":"s62","h":157.1,"q":2.8},{"s":"s62","h":157.7,"q":2.7},{"s":"s62","h":158,"q":-3.1},{"s":"s62","h":158.3,"q":2.8},{"s":"s62","h":160,"q":2.7},{"s":"s62","h":160.3,"q":4.3},{"s":"s62","h":160.6,"q":2.6},{"s":"s62","h":162,"q":2.6}
]},
"mark": {"type": "line", "interpolate": "monotone", "strokeWidth": 1, "clip": true},
"encoding": {
  "x": {
    "field": "h", "type": "quantitative",
    "scale": {"domain": [0, 161.3], "nice": false, "zero": false},
    "axis": {
      "title": null,
      "tickCount": 81,
      "grid": true,
      "gridColor": "#5ea8d3",
      "gridDash": [2, 2],
      "gridWidth": 1,
      "gridOpacity": {"condition": {"test": "datum.value % 12 === 0 && datum.value > 0", "value": 1}, "value": 0},
      "domainColor": "#8a8a8a",
      "tickColor": "#8a8a8a",
      "tickSize": {"condition": {"test": "datum.value % 12 === 0", "value": 5}, "value": 3},
      "labelExpr": "datum.value % 24 === 0 ? ['00:00:00', (datum.value / 24 + 1) + '-1-2000'] : (datum.value % 12 === 0 ? '12:00:00' : '')",
      "labelFont": "Liberation Sans",
      "labelFontSize": 10,
      "labelColor": "#333333",
      "labelFlush": false,
      "labelOverlap": false,
      "labelPadding": 2,
      "labelLineHeight": 12
    }
  },
  "y": {
    "field": "q", "type": "quantitative",
    "scale": {"domain": [-52.4, 59.1], "nice": false, "zero": false},
    "axis": {
      "title": "[m^3/s]",
      "titleAngle": 0,
      "titleX": -31,
      "titleY": -12,
      "titleAlign": "left",
      "titleBaseline": "middle",
      "titleFont": "Liberation Sans",
      "titleFontSize": 10,
      "titleFontWeight": "normal",
      "titleColor": "#333333",
      "tickCount": 112,
      "grid": true,
      "gridColor": "#5ea8d3",
      "gridDash": [2, 2],
      "gridWidth": 1,
      "gridOpacity": {"condition": {"test": "datum.value % 5 === 0", "value": 1}, "value": 0},
      "domainColor": "#000000",
      "tickColor": "#555555",
      "tickSize": {"condition": {"test": "datum.value % 5 === 0", "value": 4}, "value": 2},
      "labelExpr": "datum.value % 5 === 0 ? format(datum.value, '.1f') : ''",
      "labelFont": "Liberation Sans",
      "labelFontSize": 10,
      "labelColor": "#333333",
      "labelFlush": false,
      "labelOverlap": false,
      "labelPadding": 2
    }
  },
  "color": {
    "field": "s", "type": "nominal", "legend": null,
    "scale": {"range": ["#8ab4d8","#3cc8b4","#f0a030","#4cc44c","#5b3b9e","#e36bd0","#a02040","#8b4a2b","#d7262b","#1a1a1a","#222222","#7a3a1a","#44d044","#5a5a5a","#4a7fb5","#3ab0d0","#d070d8","#ff9a3c","#9a6ad0","#e0303c","#f0b070","#1c2a8a","#c81c6a","#8e8e8e","#88dd55","#777777","#e8d820","#90cc50","#1f77b4","#2ca02c","#d62728","#9467bd","#8c564b","#e377c2","#17becf","#c8c820","#ff7f0e","#1a1a80","#ff00ff","#008b8b","#000000","#808000","#0000ff","#00a000","#ff2020","#e000e0","#00c8d0","#ffb000","#8040ff","#a06030","#ff6090","#404040","#60c000","#3060ff","#0000c0","#101080","#2050c0","#c000c0","#2040d0","#00a000","#f08080","#d03030"]}
  }
}
}
